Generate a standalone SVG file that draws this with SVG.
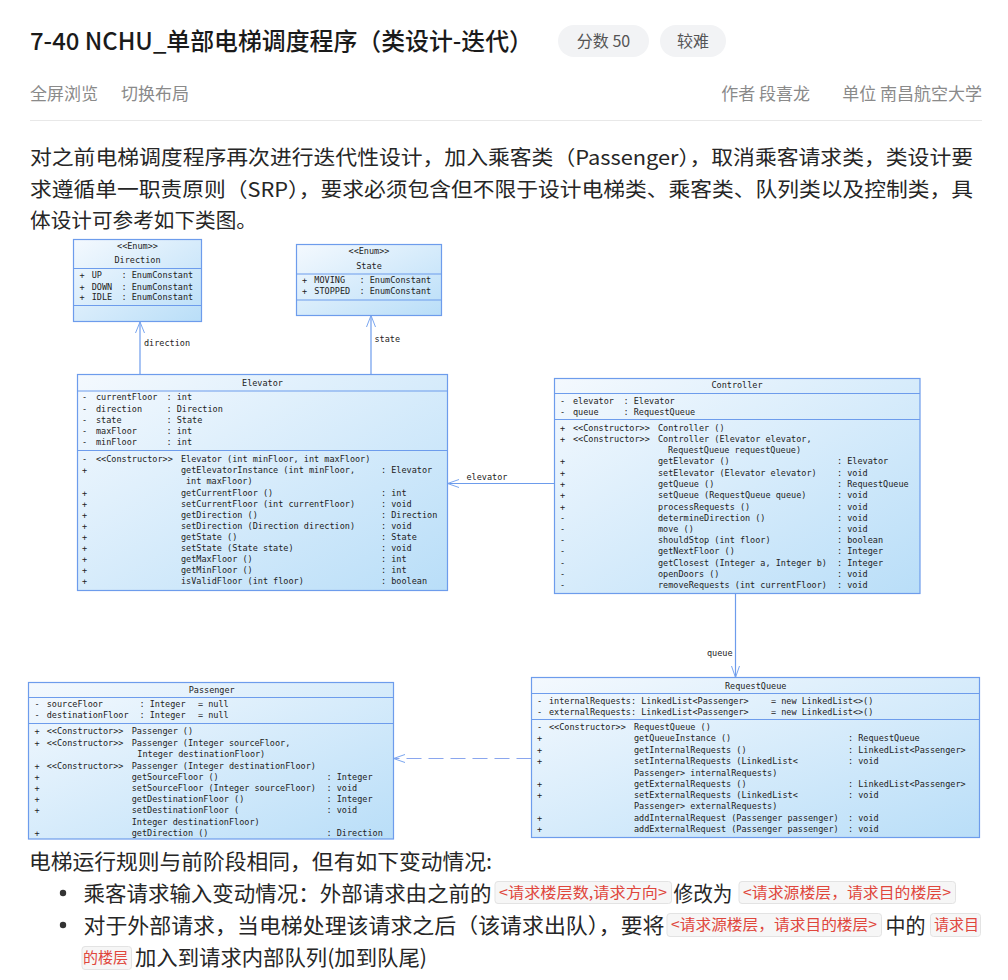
<svg xmlns="http://www.w3.org/2000/svg" width="1008" height="980" viewBox="0 0 1008 980">
<style>
.bg{fill:#ffffff}
.cn{font-family:"Noto Sans CJK SC","Noto Sans",sans-serif}
.title{font-size:24px;font-weight:500;fill:#1a1a1a}
.badge{fill:#f2f3f5}
.btxt{font-size:16px;fill:#555;text-anchor:middle}
.meta{font-size:17px;fill:#8a8a8a}
.para{font-size:20px;fill:#262626}
.body{font-size:21px;fill:#262626}
.chip{fill:#f6f6f6;stroke:#e3e3e3;stroke-width:1}
.ctxt{font-size:15px;fill:#e0463c}
.box{fill:url(#bg);stroke:#6d9cec;stroke-width:1.2}
.sep{stroke:#6d9cec;stroke-width:1.1}
.u{font-family:"DejaVu Sans Mono","Liberation Mono",monospace;font-size:8.5px;fill:#222}
.mid{text-anchor:middle}
.conn{stroke:#6d9cec;stroke-width:1.2;fill:none}
.head{stroke:#7aa6f0;stroke-width:1;fill:none}
.dash{stroke:#8aa6ee;stroke-width:1.2;fill:none;stroke-dasharray:15 7}
</style>
<defs>
<linearGradient id="bg" x1="0" y1="0" x2="1" y2="1">
<stop offset="0" stop-color="#f4f9fe"/>
<stop offset="1" stop-color="#b9def8"/>
</linearGradient>
</defs>
<rect class="bg" x="0" y="0" width="1008" height="980"/>

<g id="header">
<text class="cn title" x="30" y="50" textLength="503" lengthAdjust="spacingAndGlyphs">7-40 NCHU_单部电梯调度程序（类设计-迭代）</text>
<rect class="badge" x="558" y="25" width="91" height="32" rx="16"/>
<text class="cn btxt" x="603.5" y="47">分数 50</text>
<rect class="badge" x="660" y="25" width="66" height="32" rx="16"/>
<text class="cn btxt" x="693" y="47">较难</text>
<text class="cn meta" x="30" y="100">全屏浏览</text>
<text class="cn meta" x="121" y="100">切换布局</text>
<text class="cn meta" x="810" y="100" text-anchor="end">作者 段喜龙</text>
<text class="cn meta" x="982" y="100" text-anchor="end">单位 南昌航空大学</text>
<line x1="30" y1="120.5" x2="982" y2="120.5" stroke="#e8e8e8" stroke-width="1"/>
<text class="cn para" x="30" y="165" textLength="943" lengthAdjust="spacingAndGlyphs">对之前电梯调度程序再次进行迭代性设计，加入乘客类（Passenger），取消乘客请求类，类设计要</text>
<text class="cn para" x="30" y="197" textLength="943" lengthAdjust="spacingAndGlyphs">求遵循单一职责原则（SRP），要求必须包含但不限于设计电梯类、乘客类、队列类以及控制类，具</text>
<text class="cn para" x="30" y="228" textLength="227" lengthAdjust="spacingAndGlyphs">体设计可参考如下类图。</text>
</g>

<g id="connectors">
<line class="conn" x1="140" y1="374.5" x2="140" y2="322"/>
<polyline class="head" points="135.5,333 140,322 144.5,333"/>
<text class="u" x="144" y="346">direction</text>
<line class="conn" x1="371" y1="374.5" x2="371" y2="315.5"/>
<polyline class="head" points="366.5,327 371,315.5 375.5,327"/>
<text class="u" x="374.5" y="342">state</text>
<line class="conn" x1="554.5" y1="483.5" x2="447.5" y2="483.5"/>
<polyline class="head" points="459,479.5 447.5,483.5 459,487.5"/>
<text class="u" x="466.5" y="480">elevator</text>
<line class="conn" x1="735.5" y1="593.5" x2="735.5" y2="677.5"/>
<polyline class="head" points="731.5,666 735.5,677.5 739.5,666"/>
<text class="u" x="707" y="656">queue</text>
<line class="dash" x1="531.5" y1="758.5" x2="394" y2="758.5"/>
<polyline class="head" points="405,754.5 393.5,758.5 405,762.5"/>
</g>

<g id="Direction">
<rect class="box" x="73.5" y="239.5" width="128" height="82"/>
<line class="sep" x1="73.5" y1="268.5" x2="201.5" y2="268.5"/>
<line class="sep" x1="73.5" y1="305.5" x2="201.5" y2="305.5"/>
<text class="u mid" x="137.5" y="248.7">&lt;&lt;Enum&gt;&gt;</text>
<text class="u mid" x="137.5" y="263">Direction</text>
<text class="u" y="278.3"><tspan x="79.5">+</tspan><tspan x="91.7">UP</tspan><tspan x="121.5">: EnumConstant</tspan></text>
<text class="u" y="289.6"><tspan x="79.5">+</tspan><tspan x="91.7">DOWN</tspan><tspan x="121.5">: EnumConstant</tspan></text>
<text class="u" y="300.4"><tspan x="79.5">+</tspan><tspan x="91.7">IDLE</tspan><tspan x="121.5">: EnumConstant</tspan></text>
</g>

<g id="State">
<rect class="box" x="296.5" y="244.5" width="145" height="71"/>
<line class="sep" x1="296.5" y1="274" x2="441.5" y2="274"/>
<line class="sep" x1="296.5" y1="300" x2="441.5" y2="300"/>
<text class="u mid" x="369" y="254">&lt;&lt;Enum&gt;&gt;</text>
<text class="u mid" x="369" y="268.7">State</text>
<text class="u" y="283"><tspan x="302">+</tspan><tspan x="314.3">MOVING</tspan><tspan x="359.5">: EnumConstant</tspan></text>
<text class="u" y="294"><tspan x="302">+</tspan><tspan x="314.3">STOPPED</tspan><tspan x="359.5">: EnumConstant</tspan></text>
</g>

<g id="Elevator">
<rect class="box" x="77.5" y="374.5" width="370" height="216"/>
<line class="sep" x1="77.5" y1="391" x2="447.5" y2="391"/>
<line class="sep" x1="77.5" y1="450.5" x2="447.5" y2="450.5"/>
<text class="u mid" x="262.5" y="385.7">Elevator</text>
<text class="u" y="400.3"><tspan x="82">-</tspan><tspan x="96">currentFloor</tspan><tspan x="166.5">: int</tspan></text>
<text class="u" y="411.6"><tspan x="82">-</tspan><tspan x="96">direction</tspan><tspan x="166.5">: Direction</tspan></text>
<text class="u" y="422.9"><tspan x="82">-</tspan><tspan x="96">state</tspan><tspan x="166.5">: State</tspan></text>
<text class="u" y="434.2"><tspan x="82">-</tspan><tspan x="96">maxFloor</tspan><tspan x="166.5">: int</tspan></text>
<text class="u" y="445.4"><tspan x="82">-</tspan><tspan x="96">minFloor</tspan><tspan x="166.5">: int</tspan></text>
<text class="u" y="461.7"><tspan x="82">-</tspan><tspan x="96">&lt;&lt;Constructor&gt;&gt;</tspan><tspan x="181">Elevator (int minFloor, int maxFloor)</tspan></text>
<text class="u" y="472.7"><tspan x="82">+</tspan><tspan x="181">getElevatorInstance (int minFloor,</tspan><tspan x="381">: Elevator</tspan></text>
<text class="u" x="186" y="483.7">int maxFloor)</text>
<text class="u" y="495.7"><tspan x="82">+</tspan><tspan x="181">getCurrentFloor ()</tspan><tspan x="381">: int</tspan></text>
<text class="u" y="506.7"><tspan x="82">+</tspan><tspan x="181">setCurrentFloor (int currentFloor)</tspan><tspan x="381">: void</tspan></text>
<text class="u" y="517.7"><tspan x="82">+</tspan><tspan x="181">getDirection ()</tspan><tspan x="381">: Direction</tspan></text>
<text class="u" y="528.7"><tspan x="82">+</tspan><tspan x="181">setDirection (Direction direction)</tspan><tspan x="381">: void</tspan></text>
<text class="u" y="540"><tspan x="82">+</tspan><tspan x="181">getState ()</tspan><tspan x="381">: State</tspan></text>
<text class="u" y="551"><tspan x="82">+</tspan><tspan x="181">setState (State state)</tspan><tspan x="381">: void</tspan></text>
<text class="u" y="562.3"><tspan x="82">+</tspan><tspan x="181">getMaxFloor ()</tspan><tspan x="381">: int</tspan></text>
<text class="u" y="573.3"><tspan x="82">+</tspan><tspan x="181">getMinFloor ()</tspan><tspan x="381">: int</tspan></text>
<text class="u" y="584.3"><tspan x="82">+</tspan><tspan x="181">isValidFloor (int floor)</tspan><tspan x="381">: boolean</tspan></text>
</g>

<g id="Controller">
<rect class="box" x="554.5" y="378.5" width="365.5" height="215"/>
<line class="sep" x1="554.5" y1="393.5" x2="920" y2="393.5"/>
<line class="sep" x1="554.5" y1="419.5" x2="920" y2="419.5"/>
<text class="u mid" x="737" y="388">Controller</text>
<text class="u" y="403.7"><tspan x="560">-</tspan><tspan x="573">elevator</tspan><tspan x="623.5">: Elevator</tspan></text>
<text class="u" y="414.7"><tspan x="560">-</tspan><tspan x="573">queue</tspan><tspan x="623.5">: RequestQueue</tspan></text>
<text class="u" y="430.7"><tspan x="560">+</tspan><tspan x="573">&lt;&lt;Constructor&gt;&gt;</tspan><tspan x="658">Controller ()</tspan></text>
<text class="u" y="442"><tspan x="560">+</tspan><tspan x="573">&lt;&lt;Constructor&gt;&gt;</tspan><tspan x="658">Controller (Elevator elevator,</tspan></text>
<text class="u" x="668" y="452.7">RequestQueue requestQueue)</text>
<text class="u" y="464.3"><tspan x="560">+</tspan><tspan x="658">getElevator ()</tspan><tspan x="837">: Elevator</tspan></text>
<text class="u" y="475.7"><tspan x="560">+</tspan><tspan x="658">setElevator (Elevator elevator)</tspan><tspan x="837">: void</tspan></text>
<text class="u" y="487"><tspan x="560">+</tspan><tspan x="658">getQueue ()</tspan><tspan x="837">: RequestQueue</tspan></text>
<text class="u" y="498"><tspan x="560">+</tspan><tspan x="658">setQueue (RequestQueue queue)</tspan><tspan x="837">: void</tspan></text>
<text class="u" y="509.7"><tspan x="560">+</tspan><tspan x="658">processRequests ()</tspan><tspan x="837">: void</tspan></text>
<text class="u" y="520.7"><tspan x="560">-</tspan><tspan x="658">determineDirection ()</tspan><tspan x="837">: void</tspan></text>
<text class="u" y="531.7"><tspan x="560">-</tspan><tspan x="658">move ()</tspan><tspan x="837">: void</tspan></text>
<text class="u" y="543"><tspan x="560">-</tspan><tspan x="658">shouldStop (int floor)</tspan><tspan x="837">: boolean</tspan></text>
<text class="u" y="554.3"><tspan x="560">-</tspan><tspan x="658">getNextFloor ()</tspan><tspan x="837">: Integer</tspan></text>
<text class="u" y="566"><tspan x="560">-</tspan><tspan x="658">getClosest (Integer a, Integer b)</tspan><tspan x="837">: Integer</tspan></text>
<text class="u" y="577.3"><tspan x="560">-</tspan><tspan x="658">openDoors ()</tspan><tspan x="837">: void</tspan></text>
<text class="u" y="588.3"><tspan x="560">-</tspan><tspan x="658">removeRequests (int currentFloor)</tspan><tspan x="837">: void</tspan></text>
</g>

<g id="RequestQueue">
<rect class="box" x="531.5" y="677.5" width="448" height="160"/>
<line class="sep" x1="531.5" y1="693.5" x2="979.5" y2="693.5"/>
<line class="sep" x1="531.5" y1="719.5" x2="979.5" y2="719.5"/>
<text class="u mid" x="755.7" y="688.7">RequestQueue</text>
<text class="u" y="703.7"><tspan x="537">-</tspan><tspan x="549">internalRequests</tspan><tspan x="631">: LinkedList&lt;Passenger&gt;</tspan><tspan x="771">= new LinkedList&lt;&gt;()</tspan></text>
<text class="u" y="714.7"><tspan x="537">-</tspan><tspan x="549">externalRequests</tspan><tspan x="631">: LinkedList&lt;Passenger&gt;</tspan><tspan x="771">= new LinkedList&lt;&gt;()</tspan></text>
<text class="u" y="730.3"><tspan x="537">-</tspan><tspan x="549">&lt;&lt;Constructor&gt;&gt;</tspan><tspan x="634">RequestQueue ()</tspan></text>
<text class="u" y="741.3"><tspan x="537">+</tspan><tspan x="634">getQueueInstance ()</tspan><tspan x="848">: RequestQueue</tspan></text>
<text class="u" y="752.7"><tspan x="537">+</tspan><tspan x="634">getInternalRequests ()</tspan><tspan x="848">: LinkedList&lt;Passenger&gt;</tspan></text>
<text class="u" y="764"><tspan x="537">+</tspan><tspan x="634">setInternalRequests (LinkedList&lt;</tspan><tspan x="848">: void</tspan></text>
<text class="u" x="634" y="775.7">Passenger&gt; internalRequests)</text>
<text class="u" y="786.7"><tspan x="537">+</tspan><tspan x="634">getExternalRequests ()</tspan><tspan x="848">: LinkedList&lt;Passenger&gt;</tspan></text>
<text class="u" y="798"><tspan x="537">+</tspan><tspan x="634">setExternalRequests (LinkedList&lt;</tspan><tspan x="848">: void</tspan></text>
<text class="u" x="634" y="809.3">Passenger&gt; externalRequests)</text>
<text class="u" y="821.3"><tspan x="537">+</tspan><tspan x="634">addInternalRequest (Passenger passenger)</tspan><tspan x="848">: void</tspan></text>
<text class="u" y="832.3"><tspan x="537">+</tspan><tspan x="634">addExternalRequest (Passenger passenger)</tspan><tspan x="848">: void</tspan></text>
</g>

<g id="Passenger">
<rect class="box" x="28.5" y="682.5" width="365" height="156.5"/>
<line class="sep" x1="28.5" y1="697.5" x2="393.5" y2="697.5"/>
<line class="sep" x1="28.5" y1="723.5" x2="393.5" y2="723.5"/>
<text class="u mid" x="211.7" y="692.7">Passenger</text>
<text class="u" y="707"><tspan x="34.5">-</tspan><tspan x="46.7">sourceFloor</tspan><tspan x="139.5">: Integer</tspan><tspan x="198">= null</tspan></text>
<text class="u" y="718.3"><tspan x="34.5">-</tspan><tspan x="46.7">destinationFloor</tspan><tspan x="139.5">: Integer</tspan><tspan x="198">= null</tspan></text>
<text class="u" y="734.3"><tspan x="34.5">+</tspan><tspan x="46.7">&lt;&lt;Constructor&gt;&gt;</tspan><tspan x="131.7">Passenger ()</tspan></text>
<text class="u" y="745.7"><tspan x="34.5">+</tspan><tspan x="46.7">&lt;&lt;Constructor&gt;&gt;</tspan><tspan x="131.7">Passenger (Integer sourceFloor,</tspan></text>
<text class="u" x="137.3" y="757.3">Integer destinationFloor)</text>
<text class="u" y="768.7"><tspan x="34.5">+</tspan><tspan x="46.7">&lt;&lt;Constructor&gt;&gt;</tspan><tspan x="131.7">Passenger (Integer destinationFloor)</tspan></text>
<text class="u" y="780"><tspan x="34.5">+</tspan><tspan x="131.7">getSourceFloor ()</tspan><tspan x="326.5">: Integer</tspan></text>
<text class="u" y="791"><tspan x="34.5">+</tspan><tspan x="131.7">setSourceFloor (Integer sourceFloor)</tspan><tspan x="326.5">: void</tspan></text>
<text class="u" y="802.3"><tspan x="34.5">+</tspan><tspan x="131.7">getDestinationFloor ()</tspan><tspan x="326.5">: Integer</tspan></text>
<text class="u" y="813.3"><tspan x="34.5">+</tspan><tspan x="131.7">setDestinationFloor (</tspan><tspan x="326.5">: void</tspan></text>
<text class="u" x="131.7" y="824.7">Integer destinationFloor)</text>
<text class="u" y="835.7"><tspan x="34.5">+</tspan><tspan x="131.7">getDirection ()</tspan><tspan x="326.5">: Direction</tspan></text>
</g>

<g id="footer">
<text class="cn body" x="29" y="869" textLength="463" lengthAdjust="spacingAndGlyphs">电梯运行规则与前阶段相同，但有如下变动情况:</text>
<circle cx="63" cy="893" r="3.2" fill="#333"/>
<text class="cn body" x="83.5" y="900.5" textLength="408" lengthAdjust="spacingAndGlyphs">乘客请求输入变动情况：外部请求由之前的</text>
<rect class="chip" x="495" y="881.5" width="176.5" height="22" rx="3"/>
<text class="cn ctxt" x="499" y="897.5" textLength="168" lengthAdjust="spacingAndGlyphs">&lt;请求楼层数,请求方向&gt;</text>
<text class="cn body" x="673.5" y="900.5" textLength="59" lengthAdjust="spacingAndGlyphs">修改为</text>
<rect class="chip" x="739" y="881.5" width="216.5" height="22" rx="3"/>
<text class="cn ctxt" x="743" y="897.5" textLength="208" lengthAdjust="spacingAndGlyphs">&lt;请求源楼层，请求目的楼层&gt;</text>
<circle cx="63" cy="925" r="3.2" fill="#333"/>
<text class="cn body" x="83.5" y="932.5" textLength="581" lengthAdjust="spacingAndGlyphs">对于外部请求，当电梯处理该请求之后（该请求出队），要将</text>
<rect class="chip" x="667" y="913.5" width="214.5" height="23" rx="3"/>
<text class="cn ctxt" x="671" y="930" textLength="206" lengthAdjust="spacingAndGlyphs">&lt;请求源楼层，请求目的楼层&gt;</text>
<text class="cn body" x="885.6" y="932.5" textLength="40" lengthAdjust="spacingAndGlyphs">中的</text>
<rect class="chip" x="930.5" y="913.5" width="50" height="23" rx="3"/>
<text class="cn ctxt" x="934" y="930" textLength="45" lengthAdjust="spacingAndGlyphs">请求目</text>
<rect class="chip" x="82" y="946.5" width="49.5" height="23" rx="3"/>
<text class="cn ctxt" x="83" y="963" textLength="45" lengthAdjust="spacingAndGlyphs">的楼层</text>
<text class="cn body" x="135" y="965" textLength="292" lengthAdjust="spacingAndGlyphs">加入到请求内部队列(加到队尾)</text>
</g>
</svg>
